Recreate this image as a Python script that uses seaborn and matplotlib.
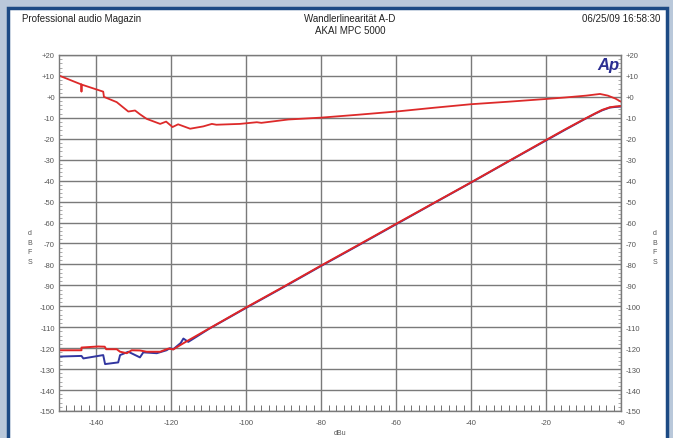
import matplotlib
matplotlib.use('Agg')
import matplotlib.pyplot as plt
import matplotlib.patches as mpatches
import numpy as np
import pandas as pd
import seaborn as sns

# Linearitaetsabweichung (obere Kurve, rot)
dev_x = [-150, -144, -144, -144, -138.2, -138, -134.6, -131.5, -129.7, -128.4, -126.6,
         -123, -121.4, -119.7, -118.2, -115, -111.5, -109.2, -108, -101.7, -97.2, -96,
         -88.8, -80, -70, -60, -50, -40, -30, -20, -15, -9.3, -5.6, -3.5, -1.5, 0]
dev_y = [10.2, 5.9, 2.6, 5.9, 2.5, 0, -2.5, -7, -6.5, -8.3, -10.5,
         -12.9, -11.8, -14.4, -13.1, -15.2, -14.1, -12.9, -13.3, -12.9, -12.1, -12.4,
         -10.8, -9.9, -8.5, -7, -5.2, -3.5, -2.3, -1.0, -0.3, 0.6, 1.4, 0.6, -0.8, -2.3]

# Ausgangspegel, Kanal blau
blue_x = [-150, -144, -143.5, -138.2, -137.7, -134.2, -133.7, -131.5, -128.4, -127.5,
          -123.9, -121.3, -120.4, -119.5, -117.5, -116.8, -115.5, -113,
          -110, -100, -90, -80, -70, -60, -50, -40, -30, -20, -15, -10, -7, -5, -3, -1.5, 0]
blue_y = [-124, -123.7, -124.9, -123.3, -127.6, -126.8, -123.3, -121.7, -124.4, -122,
          -122.4, -121, -120, -120.5, -117.5, -115.4, -117, -114.2,
          -110.8, -100.7, -90.8, -80.7, -70.8, -60.8, -50.8, -40.9, -30.8, -20.8, -15.8, -10.9, -8.1, -6.4, -5.1, -4.8, -4.6]

# Ausgangspegel, Kanal rot
red_x = [-150, -144, -144, -139.6, -137.8, -137.4, -134.6, -133.7, -131.9, -130.6, -128.4,
         -126.6, -123, -120.8, -119.5, -117.7, -116,
         -110, -100, -90, -80, -70, -60, -50, -40, -30, -20, -15, -10, -7, -5, -3, -1.5, 0]
red_y = [-121, -121, -119.7, -119.2, -119.3, -120.5, -120.5, -121.7, -122.4, -121, -121.1,
         -121.7, -121.7, -120.2, -120.6, -118.6, -116.8,
         -110.7, -100.5, -90.6, -80.5, -70.6, -60.6, -50.7, -40.8, -30.7, -20.6, -15.6, -10.8, -8.0, -6.2, -5.0, -4.6, -4.4]

x_ticks = [-140, -120, -100, -80, -60, -40, -20, 0]
x_labels = ['-140', '-120', '-100', '-80', '-60', '-40', '-20', '+0']
y_ticks = list(range(20, -151, -10))
y_labels = ['+20', '+10', '+0'] + [str(v) for v in range(-10, -151, -10)]

sns.set_style('white')
plt.rcParams['font.family'] = ['Liberation Sans', 'DejaVu Sans']

fig = plt.figure(figsize=(6.73, 4.39), dpi=100, facecolor='#b9c8da')
# weisses Blatt mit blauem Rahmen
fig.patches.append(mpatches.Rectangle((8 / 673, -0.05), 659 / 673, 1.05 - 9 / 439,
                                      transform=fig.transFigure, facecolor='white',
                                      edgecolor='#1c4a84', linewidth=2.5, zorder=-5))

ax = fig.add_axes([59 / 673, 27 / 439, 562 / 673, 356 / 439])
ax.set_facecolor('white')
ax.set_zorder(2)

sns.lineplot(x=dev_x, y=dev_y, ax=ax, estimator=None, sort=False, color='#dd2a2a', lw=1.3)
sns.lineplot(x=blue_x, y=blue_y, ax=ax, estimator=None, sort=False, color='#3236a0', lw=1.4)
sns.lineplot(x=red_x, y=red_y, ax=ax, estimator=None, sort=False, color='#e02626', lw=1.4)

ax.set_xlim(-150, 0)
ax.set_ylim(-150, 20)
ax.set_xticks(x_ticks)
ax.set_xticklabels(x_labels)
ax.set_yticks(y_ticks)
ax.set_yticklabels(y_labels)
ax.set_xticks(np.arange(-150, 1, 2), minor=True)
ax.set_yticks(np.arange(-150, 21, 2), minor=True)
ax.grid(True, which='major', color='#7a7a7a', lw=1.0)
ax.tick_params(axis='x', which='major', length=0, labelsize=5.5, labelcolor='#555555', pad=6)
ax.tick_params(axis='x', which='minor', direction='in', length=4.3, width=0.7, color='#707070', bottom=True)
ax.tick_params(axis='y', which='major', length=0, labelsize=5.5, labelcolor='#555555', pad=3,
               left=True, right=True, labelleft=True, labelright=True)
ax.tick_params(axis='y', which='minor', direction='in', length=2.5, width=0.5, color='#888888',
               left=True, right=True)
for sp in ax.spines.values():
    sp.set_color('#7a7a7a')
    sp.set_linewidth(1.0)

ax.set_xlabel('dBu', fontsize=5, color='#555555', labelpad=2)
ax.set_ylabel('')
ax.text(-0.5, 15.5, 'Ap', ha='right', va='center', fontsize=12, fontweight='bold',
        style='italic', color='#2b2e92')

fig.text(30 / 673, 1 - 248 / 439, 'd\nB\nF\nS', ha='center', va='center', fontsize=5,
         color='#555555', linespacing=1.5)
fig.text(655 / 673, 1 - 248 / 439, 'd\nB\nF\nS', ha='center', va='center', fontsize=5,
         color='#555555', linespacing=1.5)

fig.text(22 / 673, 1 - 19 / 439, 'Professional audio Magazin', ha='left', va='center',
         fontsize=7, color='#222222')
fig.text(350 / 673, 1 - 19 / 439, 'Wandlerlinearität A-D', ha='center', va='center',
         fontsize=7, color='#222222')
fig.text(350 / 673, 1 - 31 / 439, 'AKAI MPC 5000', ha='center', va='center',
         fontsize=7, color='#222222')
fig.text(660 / 673, 1 - 19 / 439, '06/25/09 16:58:30', ha='right', va='center',
         fontsize=7, color='#222222')

fig.savefig('out.png', dpi=100, facecolor=fig.get_facecolor())
